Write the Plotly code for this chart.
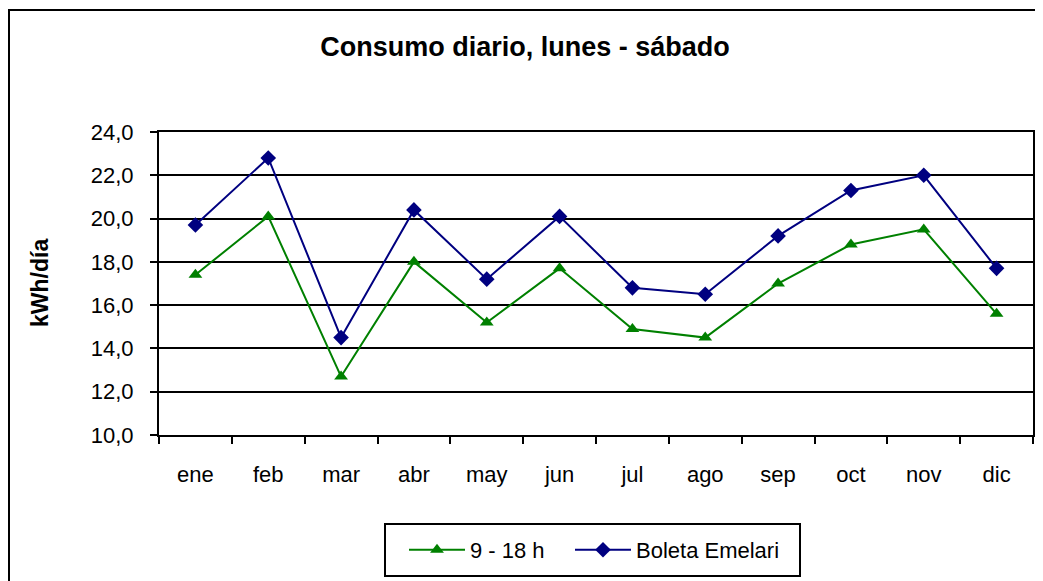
import plotly.graph_objects as go

months = ["ene", "feb", "mar", "abr", "may", "jun", "jul", "ago", "sep", "oct", "nov", "dic"]
serie_9_18 = [17.4, 20.1, 12.7, 18.0, 15.2, 17.7, 14.9, 14.5, 17.0, 18.8, 19.5, 15.6]
boleta = [19.7, 22.8, 14.5, 20.4, 17.2, 20.1, 16.8, 16.5, 19.2, 21.3, 22.0, 17.7]
y_ticks = [10, 12, 14, 16, 18, 20, 22, 24]

W, H = 1043, 581
OFF = 8  # page body margin
L, R, T, B = 159 - OFF, 1033 - OFF, 132 - OFF, 435 - OFF
pw, ph = R - L, B - T

def px_x(x):
    return (x - OFF - L) / pw

def px_y(y):
    return (B - (y - OFF)) / ph

font = "Liberation Sans, Arial, sans-serif"

fig = go.Figure()
fig.add_trace(go.Scatter(
    x=months, y=serie_9_18, name="9 - 18 h", mode="lines+markers",
    line=dict(color="#008000", width=2),
    marker=dict(symbol="triangle-up", size=12, color="#008000"),
    legendwidth=95,
))
fig.add_trace(go.Scatter(
    x=months, y=boleta, name="Boleta Emelari", mode="lines+markers",
    line=dict(color="#000080", width=2),
    marker=dict(symbol="diamond", size=12, color="#000080"),
))

fig.update_layout(
    width=W, height=H,
    margin=dict(l=L, r=W - R, t=T, b=H - B, pad=0),
    paper_bgcolor="white", plot_bgcolor="white",
    separators=",.",
    font=dict(family=font, size=22, color="black"),
    title=dict(text="<b>Consumo diario, lunes - sábado</b>", x=(525 - OFF) / W, xref="container",
               xanchor="center", y=1 - (47 - OFF) / H, yanchor="middle", yref="container",
               font=dict(family=font, size=27, color="black")),
    showlegend=True,
    legend=dict(orientation="h", x=px_x(404), xanchor="left", y=px_y(550), yanchor="middle",
                borderwidth=0, bgcolor="rgba(0,0,0,0)",
                font=dict(family=font, size=22, color="black"),
                itemwidth=56, traceorder="normal"),
)

fig.update_xaxes(
    type="category", range=[-0.5, 11.5], showline=True, linecolor="black", linewidth=2, mirror=True,
    ticks="outside", tickson="boundaries", ticklen=7, tickwidth=2, tickcolor="black",
    showgrid=False, ticklabelstandoff=19,
    tickfont=dict(family=font, size=22, color="black"),
)
fig.update_yaxes(
    range=[10, 24], tickvals=y_ticks, tickformat=".1f",
    showline=True, linecolor="black", linewidth=2, mirror=True,
    ticks="outside", ticklen=7, tickwidth=2, tickcolor="black",
    showgrid=True, gridcolor="black", gridwidth=2, zeroline=False,
    ticklabelstandoff=12,
    tickfont=dict(family=font, size=22, color="black"),
)

fig.add_annotation(text="<b>kWh/día</b>", textangle=-90, xref="paper", yref="paper",
                   x=px_x(40), y=px_y(283), xanchor="center", yanchor="middle", showarrow=False,
                   font=dict(family=font, size=23, color="black"))

# outer chart frame
fig.add_shape(type="rect", xref="paper", yref="paper",
              x0=px_x(9), x1=px_x(1060), y0=px_y(600), y1=px_y(10),
              line=dict(color="black", width=2), fillcolor="rgba(0,0,0,0)", layer="above")
# legend frame
fig.add_shape(type="rect", xref="paper", yref="paper",
              x0=px_x(385), x1=px_x(800), y0=px_y(576), y1=px_y(524),
              line=dict(color="black", width=2), fillcolor="rgba(0,0,0,0)", layer="above")

fig.write_html("out.html")
